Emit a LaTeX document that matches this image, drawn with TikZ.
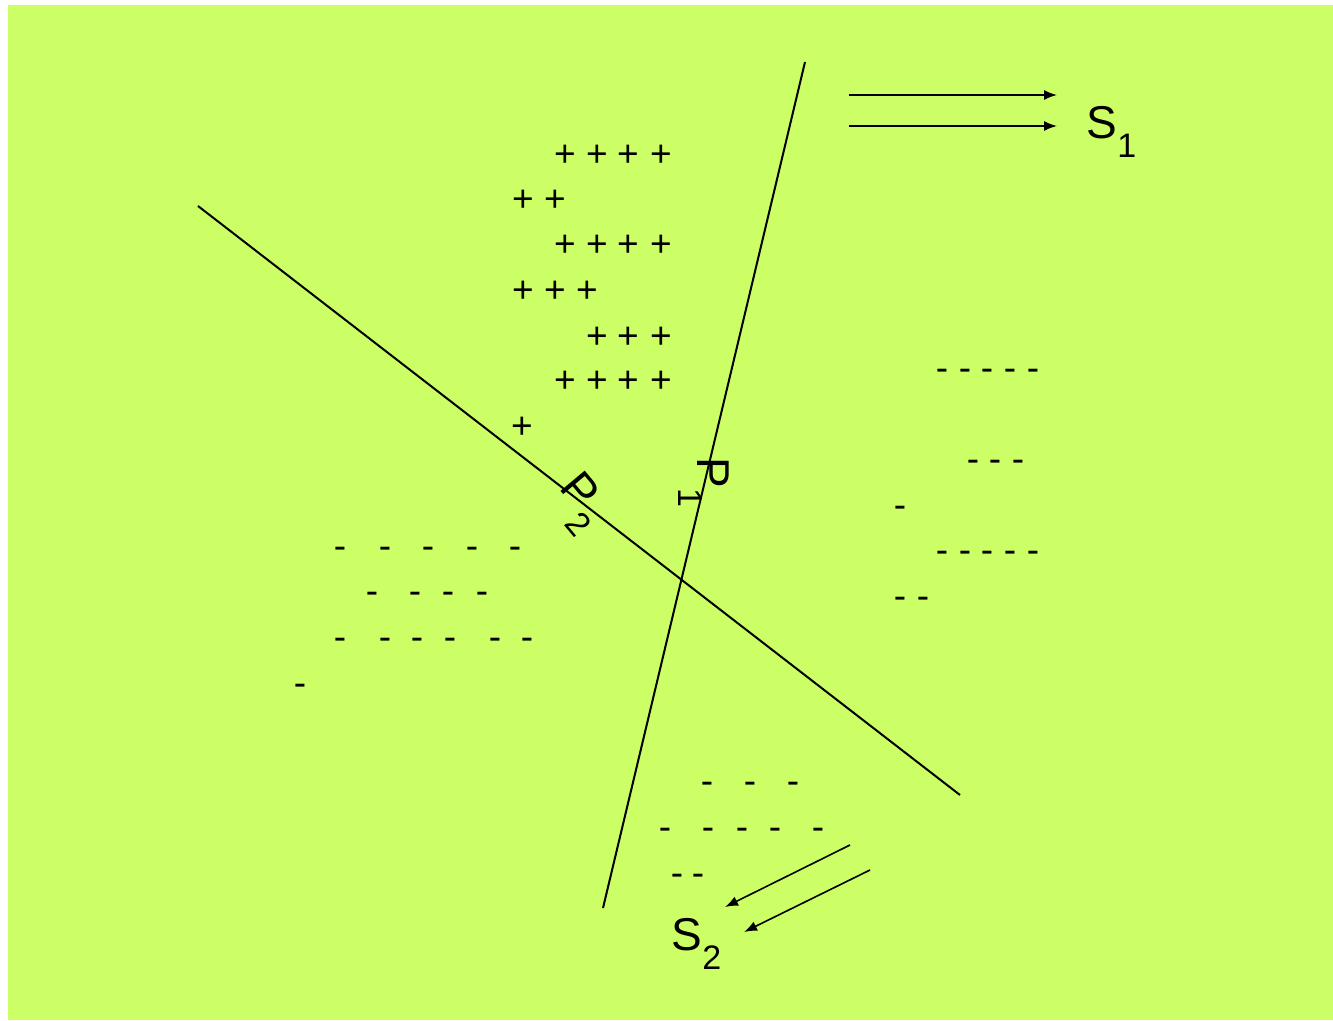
\documentclass[tikz,border=0pt]{standalone}
\usepackage{fontspec}
\setmainfont{Liberation Sans}
\usepackage{xcolor}
\usetikzlibrary{arrows.meta}

\definecolor{bggreen}{RGB}{204,255,102}

\tikzset{
  sign/.style={inner sep=0pt, font=\fontsize{37}{44}\selectfont, anchor=base},
  plus/.style={sign, yshift=-13pt},
  minus/.style={sign, yshift=-10pt},
  biglabel/.style={inner sep=0pt, font=\fontsize{46}{50}\selectfont},
  planeline/.style={line width=2pt},
  flow/.style={line width=1.6pt, -{Latex[length=13pt,width=10pt]}}
}
\newcommand{\sublbl}[2]{#1\rlap{\smash{\raisebox{-19pt}{\fontsize{34}{34}\selectfont #2}}}}

\begin{document}
\begin{tikzpicture}[x=1pt, y=-1pt]
\useasboundingbox (0,0) rectangle (1333,1020);
\fill[white] (0,0) rectangle (1333,1020);
\fill[bggreen] (8,5) rectangle (1333,1020);

% the two planes
\coordinate (p1top) at (805,62);
\coordinate (p1bot) at (603,908);
\coordinate (p2top) at (198,206);
\coordinate (p2bot) at (960,795);
\draw[planeline] (p1top) -- (p1bot);
\draw[planeline] (p2top) -- (p2bot);
\node[biglabel, rotate=-90] (p1label) at (713,473) {\sublbl{P}{1}};
\node[biglabel, rotate=-50] (p2label) at (580,490) {\sublbl{P}{2}};

% charges
\foreach \y/\xs in {153/{565,597,628,661}, 198/{523,555}, 243/{565,597,628,661},
                    289/{523,555,587}, 335/{597,628,661}, 379/{565,597,628,661}, 425/{522}}
  \foreach \x in \xs
    \node[plus] (plus-\y-\x) at (\x,\y) {+};

\foreach \y/\xs in {370/{942,965,987,1010,1033}, 461/{973,995,1018}, 507/{900},
                    552/{942,965,987,1010,1033}, 598/{900,923},
                    548/{340,385,428,472,515}, 593/{372,415,448,482},
                    639/{340,385,417,450,495,527}, 685/{300},
                    783/{707,750,793}, 829/{665,708,742,775,818}, 875/{677,698}}
  \foreach \x in \xs
    \node[minus] (minus-\y-\x) at (\x,\y) {-};

% S1
\node[biglabel] (s1) at (1102,123) {\sublbl{S}{1}};
\coordinate (s1a) at (849,95);
\coordinate (s1b) at (1057,95);
\coordinate (s1c) at (849,126);
\coordinate (s1d) at (1057,126);
\draw[flow] (s1a) -- (s1b);
\draw[flow] (s1c) -- (s1d);

% S2
\node[biglabel] (s2) at (687,935) {\sublbl{S}{2}};
\coordinate (s2a) at (850,845);
\coordinate (s2b) at (725,907);
\coordinate (s2c) at (870,870);
\coordinate (s2d) at (744,932);
\draw[flow] (s2a) -- (s2b);
\draw[flow] (s2c) -- (s2d);
\end{tikzpicture}
\end{document}
